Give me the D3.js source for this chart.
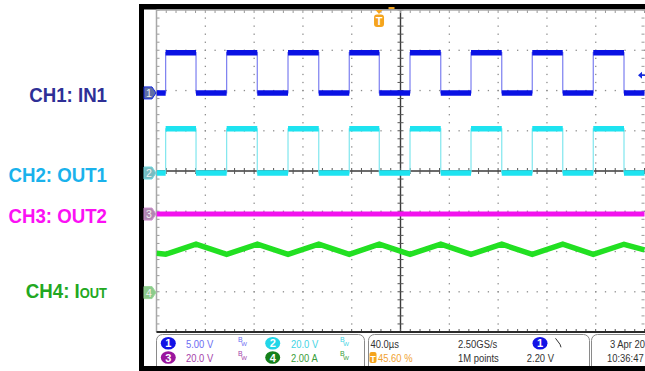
<!DOCTYPE html>
<html><head><meta charset="utf-8">
<script src="https://cdn.jsdelivr.net/npm/d3@7"></script>
<style>html,body{margin:0;padding:0;background:#fff;}svg{display:block;}</style>
</head><body>
<script>
// ---------- data ----------
const timeDomainUs = [0, 400];           // 10 div x 40.0 us
const divDomain = [4, -4];               // 8 vertical divisions
const chNames = ["CH1: IN1", "CH2: OUT1", "CH3: OUT2", "CH4: I"];
const chUnitsPerDiv = [5, 20, 20, 2];    // 5.00 V, 20.0 V, 20.0 V, 2.00 A
const chOffsetDiv = [1.94, -0.05, -1.07, -3.02];
const riseUs = [7.5, 57.5, 107.8, 158, 207.8, 257.8, 308, 358];
const fallUs = [32.4, 82.6, 133, 182.6, 233, 283, 333, 383.2];
const in1LevelsV = [0, 5];      // low, high
const out1LevelsV = [0, 22];    // low, high
const out2T = [0, 400];
const out2V = [0, 0];
const ioutT = [0, 7.5, 32.4, 57.5, 82.6, 107.8, 133, 158, 182.6, 207.8, 233, 257.8, 283, 308, 333, 358, 383.2, 400];
const ioutA = [1.95, 1.9, 2.4, 1.9, 2.4, 1.9, 2.4, 1.9, 2.4, 1.9, 2.4, 1.9, 2.4, 1.9, 2.4, 1.9, 2.4, 2.12];
const trigLevelV = 2.2;
const trigPosPct = 45.6;
const statusRow1 = ["5.00 V", "20.0 V", "40.0µs", "2.50GS/s", "3 Apr 20"];
const statusRow2 = ["20.0 V", "2.00 A", "45.60 %", "1M points", "2.20 V", "10:36:47"];

// ---------- drawing ----------
const W = 645, H = 371;
const svg = d3.select("body").append("svg").attr("width", W).attr("height", H);
svg.append("rect").attr("width", W).attr("height", H).attr("fill", "#fff");

// frame
svg.append("rect").attr("x", 139).attr("y", 4).attr("width", W - 139).attr("height", H - 4).attr("fill", "#000");
svg.append("rect").attr("x", 144).attr("y", 9.5).attr("width", W - 144).attr("height", 356.5).attr("fill", "#fff");

const L = 156.5, R = 644.5, T = 10, B = 332;
const x = d3.scaleLinear().domain(timeDomainUs).range([L, R]);
const yDiv = d3.scaleLinear().domain(divDomain).range([T, B]);
const divW = (R - L) / 10, divH = (B - T) / 8;
const chY = i => (v => yDiv(chOffsetDiv[i] + v / chUnitsPerDiv[i]));

// graticule
const grat = svg.append("g");
d3.range(1, 10).forEach(k => {
  if (k === 5) return;
  d3.range(0, 41).forEach(m => {
    grat.append("rect").attr("x", L + k * divW - 0.6).attr("y", T + m * divH / 5 - 0.6)
      .attr("width", 1.3).attr("height", 1.3).attr("fill", "#8c8c8c");
  });
});
d3.range(1, 8).forEach(k => {
  if (k === 4) return;
  d3.range(0, 51).forEach(m => {
    grat.append("rect").attr("x", L + m * divW / 5 - 0.6).attr("y", T + k * divH - 0.6)
      .attr("width", 1.3).attr("height", 1.3).attr("fill", "#8c8c8c");
  });
});
const cx = x(200), cy = yDiv(0);
grat.append("line").attr("x1", L).attr("x2", R).attr("y1", cy).attr("y2", cy).attr("stroke", "#3a3a3a").attr("stroke-width", 1.4);
grat.append("line").attr("x1", cx).attr("x2", cx).attr("y1", T).attr("y2", B).attr("stroke", "#3a3a3a").attr("stroke-width", 1.4);
d3.range(0, 51).forEach(m => {
  const px = L + m * divW / 5;
  grat.append("line").attr("x1", px).attr("x2", px).attr("y1", cy - 3).attr("y2", cy + 3).attr("stroke", "#555").attr("stroke-width", 1);
  grat.append("line").attr("x1", px).attr("x2", px).attr("y1", T).attr("y2", T + 3).attr("stroke", "#999").attr("stroke-width", 1);
  grat.append("line").attr("x1", px).attr("x2", px).attr("y1", B - 3).attr("y2", B).attr("stroke", "#555").attr("stroke-width", 1);
});
d3.range(0, 41).forEach(m => {
  const py = T + m * divH / 5;
  grat.append("line").attr("x1", cx - 3).attr("x2", cx + 3).attr("y1", py).attr("y2", py).attr("stroke", "#555").attr("stroke-width", 1);
  grat.append("line").attr("x1", L).attr("x2", L + 3).attr("y1", py).attr("y2", py).attr("stroke", "#999").attr("stroke-width", 1);
  grat.append("line").attr("x1", R - 3).attr("x2", R).attr("y1", py).attr("y2", py).attr("stroke", "#999").attr("stroke-width", 1);
});
grat.append("line").attr("x1", L).attr("x2", W).attr("y1", T).attr("y2", T).attr("stroke", "#a8a8a8").attr("stroke-width", 1.5);
grat.append("line").attr("x1", L).attr("x2", L).attr("y1", T).attr("y2", B).attr("stroke", "#a8a8a8").attr("stroke-width", 1.5);
grat.append("line").attr("x1", L).attr("x2", W).attr("y1", B).attr("y2", B).attr("stroke", "#2a2a2a").attr("stroke-width", 2);

svg.append("clipPath").attr("id", "plot").append("rect").attr("x", L).attr("y", T).attr("width", W - L).attr("height", B - T);
const traces = svg.append("g").attr("clip-path", "url(#plot)");

const edges = riseUs.map(t => ({t, up: true})).concat(fallUs.map(t => ({t, up: false}))).sort((a, b) => a.t - b.t);
function squarePoints(levels) {
  const pts = [];
  let lvl = edges[0].up ? levels[0] : levels[1];
  pts.push([timeDomainUs[0], lvl]);
  edges.forEach(e => {
    pts.push([e.t, lvl]);
    lvl = e.up ? levels[1] : levels[0];
    pts.push([e.t, lvl]);
  });
  pts.push([timeDomainUs[1], lvl]);
  return pts;
}
function drawSquare(i, levels, thin, thick, width) {
  const yy = chY(i);
  const pts = squarePoints(levels);
  const line = d3.line().x(d => x(d[0])).y(d => yy(d[1]));
  traces.append("path").attr("d", line(pts)).attr("fill", "none").attr("stroke", thin).attr("stroke-width", 1.2);
  for (let k = 0; k < pts.length - 1; k += 2) {
    traces.append("line").attr("x1", x(pts[k][0])).attr("x2", x(pts[k + 1][0]))
      .attr("y1", yy(pts[k][1])).attr("y2", yy(pts[k + 1][1]))
      .attr("stroke", thick).attr("stroke-width", width);
  }
}
drawSquare(0, in1LevelsV, "#7b7ef0", "#0a12e4", 5.5);
drawSquare(1, out1LevelsV, "#7fe6ee", "#1ee3f0", 5.5);

const y3 = chY(2);
traces.append("path").attr("d", d3.line().x((d, k) => x(out2T[k])).y(d => y3(d))(out2V))
  .attr("fill", "none").attr("stroke", "#f212ee").attr("stroke-width", 5);

const y4 = chY(3);
traces.append("path").attr("d", d3.line().x((d, k) => x(ioutT[k])).y(d => y4(d))(ioutA))
  .attr("fill", "none").attr("stroke", "#22e022").attr("stroke-width", 5.5).attr("stroke-linejoin", "miter");

const ty = chY(0)(trigLevelV);
svg.append("path").attr("d", `M${W - 7},${ty} L${W - 3},${ty - 3.5} L${W - 3},${ty + 3.5} Z`).attr("fill", "#1428e0");
svg.append("line").attr("x1", W - 4).attr("x2", W).attr("y1", ty).attr("y2", ty).attr("stroke", "#1428e0").attr("stroke-width", 1.5);

const tx = L + (R - L) * trigPosPct / 100;
svg.append("path").attr("d", `M${tx - 3.5},${T} L${tx + 3.5},${T} L${tx},${T + 4} Z`).attr("fill", "#f5a41d");
svg.append("rect").attr("x", tx - 5).attr("y", T + 4.5).attr("width", 10).attr("height", 12.5).attr("rx", 3).attr("fill", "#f5a41d");
svg.append("text").attr("x", tx).attr("y", T + 15).attr("text-anchor", "middle").attr("font-family", "Liberation Sans, Arial, sans-serif")
  .attr("font-size", 11).attr("font-weight", "bold").attr("fill", "#fff").text("T");
svg.append("rect").attr("x", x(200) - 12).attr("y", 7).attr("width", 6).attr("height", 2).attr("fill", "#f5a41d");

const markerFill = ["#5e6ea6", "#78bcc2", "#b088b2", "#8ccb8c"];
const markerStroke = ["#1428e0", "#6fd8e0", "#d090d0", "#9ad89a"];
[0, 1, 2, 3].forEach(i => {
  const my = chY(i)(0);
  svg.append("path").attr("d", `M144,${my - 6} L152,${my - 6} L156,${my} L152,${my + 6} L144,${my + 6} Z`)
    .attr("fill", markerFill[i]).attr("stroke", markerStroke[i]).attr("stroke-width", 1);
  svg.append("text").attr("x", 149).attr("y", my + 4).attr("text-anchor", "middle")
    .attr("font-family", "Liberation Sans, Arial, sans-serif").attr("font-size", 10.5).attr("fill", "#f0f0f0").text(String(i + 1));
});

const labelColors = ["#2e2f96", "#1ab2ec", "#fb10f4", "#22a822"];
const labelBase = [102, 181.5, 223, 298];
[0, 1, 2, 3].forEach(i => {
  const t = svg.append("text").attr("transform", `translate(107,${labelBase[i]}) scale(0.89,1)`)
    .attr("text-anchor", "end").attr("font-family", "Liberation Sans, Arial, sans-serif")
    .attr("font-size", 21).attr("font-weight", "bold").attr("fill", labelColors[i]);
  t.append("tspan").text(chNames[i]);
  if (i === 3) t.append("tspan").attr("font-size", 14.5).text("OUT");
});

const st = svg.append("g");
st.append("rect").attr("x", 144).attr("y", 333).attr("width", W - 144).attr("height", 33).attr("fill", "#fff");
const boxes = [[156.5, 364.5], [368.5, 589.5], [591.5, 700]];
boxes.forEach(b => st.append("rect").attr("x", b[0]).attr("y", 334.5).attr("width", b[1] - b[0]).attr("height", 40)
  .attr("rx", 6).attr("fill", "none").attr("stroke", "#8a8a8a").attr("stroke-width", 1));
svg.append("rect").attr("x", 139).attr("y", 366).attr("width", W - 139).attr("height", 5).attr("fill", "#000");

function stText(xp, yp, txt, col, anchor) {
  st.append("text").attr("transform", `translate(${xp},${yp}) scale(0.82,1)`)
    .attr("text-anchor", anchor || "start").attr("font-family", "Liberation Sans, Arial, sans-serif")
    .attr("font-size", 11.5).attr("fill", col).text(txt);
}
function badge(xp, yp, n, col) {
  st.append("ellipse").attr("cx", xp).attr("cy", yp).attr("rx", 7.5).attr("ry", 6.3).attr("fill", col);
  st.append("text").attr("x", xp).attr("y", yp + 4).attr("text-anchor", "middle").attr("font-family", "Liberation Sans, Arial, sans-serif")
    .attr("font-size", 11).attr("font-weight", "bold").attr("fill", "#fff").text(n);
}
function bw(xp, yp, col) {
  const t = st.append("text").attr("x", xp).attr("y", yp - 1.5).attr("font-family", "Liberation Sans, Arial, sans-serif").attr("fill", col);
  t.append("tspan").attr("font-size", 7).text("B");
  t.append("tspan").attr("font-size", 6).attr("dx", -1.5).attr("dy", 4).text("W");
}
const r1 = 343.3, r2 = 357.5;
badge(168.3, r1, "1", "#1212e6");
stText(186, r1 + 4.2, statusRow1[0], "#6c6cf2");
bw(238, r1, "#6c6cf2");
badge(272.7, r1, "2", "#22d6e8");
stText(291, r1 + 4.2, statusRow1[1], "#3fd4e4");
bw(340, r1, "#3fd4e4");
badge(168.3, r2, "3", "#9a169e");
stText(186, r2 + 4.2, statusRow2[0], "#a442aa");
bw(238, r2, "#a442aa");
badge(272.7, r2, "4", "#15801a");
stText(291, r2 + 4.2, statusRow2[1], "#3a9e3a");
bw(340, r2, "#3a9e3a");

stText(370.5, r1 + 4.2, statusRow1[2], "#333");
st.append("rect").attr("x", 369.5).attr("y", r2 - 5.5).attr("width", 7).attr("height", 11).attr("rx", 2).attr("fill", "#f5a41d");
st.append("text").attr("x", 373).attr("y", r2 + 4).attr("text-anchor", "middle").attr("font-family", "Liberation Sans, Arial, sans-serif")
  .attr("font-size", 9).attr("font-weight", "bold").attr("fill", "#fff").text("T");
stText(378, r2 + 4.2, statusRow2[2], "#f0a232");
stText(458, r1 + 4.2, statusRow1[3], "#333");
stText(458, r2 + 4.2, statusRow2[3], "#333");
badge(540, r1, "1", "#1212e6");
st.append("path").attr("d", `M555.5,${r1 - 5} L560,${r1 + 1} L561,${r1 + 4}`).attr("fill", "none").attr("stroke", "#333").attr("stroke-width", 1);
stText(554, r2 + 4.2, statusRow2[4], "#333", "end");
stText(610, r1 + 4.2, statusRow1[4], "#333");
stText(607, r2 + 4.2, statusRow2[5], "#333");
</script>
</body></html>
